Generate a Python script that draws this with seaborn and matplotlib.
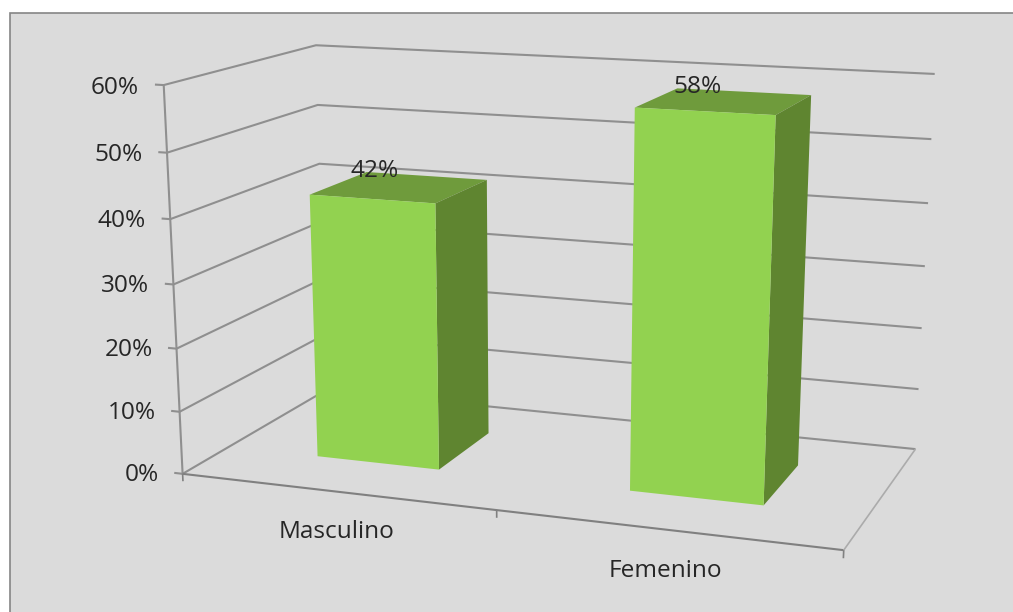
import numpy as np
import matplotlib
matplotlib.use("Agg")
import matplotlib.pyplot as plt
from matplotlib.patches import Rectangle
from mpl_toolkits.mplot3d import proj3d
import seaborn as sns

categories = ["Masculino", "Femenino"]
values = [42, 58]
value_labels = ["42%", "58%"]
tick_values = [0, 10, 20, 30, 40, 50, 60]
tick_labels = ["0%", "10%", "20%", "30%", "40%", "50%", "60%"]

FRONT = "#92D250"
TOP = "#6F9B3C"
SIDE = "#5F8530"
BG = "#DBDBDB"
GRID = "#8F8F8F"
CLEAR = (0, 0, 0, 0)

# camera fit: world (category x, depth y, value z) -> picture pixel
world_pts = [(0,0,0),(0,0,60),(0,1,60),(0,1,0),(2,1,0),(2,1,60),(2,0,0),(1,0,0),(2,1,30),(0,0,30),
             (1.3,.3,58),(1.7,.3,58),(1.7,.71,58),(1.3,.3,0),(1.7,.3,0),(.3,.3,42),(.7,.3,42),(.7,.71,42)]
pixel_pts = [(184,473),(163,85),(318,45),(325,392),(915,448),(936,72),(844,551),(497,510),(925,266),(172,284),
             (635,109),(776,116),(809,97),(630,491),(764,505),(310,194),(436,202),(485,180)]

def fit_camera(world, pixel):
    rows = []
    for (x, y, z), (u, v) in zip(world, pixel):
        X = [x / 2, y, z / 60, 1]
        rows.append(X + [0, 0, 0, 0] + [-u * c for c in X])
        rows.append([0, 0, 0, 0] + X + [-v * c for c in X])
    P = np.linalg.svd(np.array(rows, float))[2][-1].reshape(3, 4)
    P = P @ np.diag([1 / 2, 1, 1 / 60, 1])
    if P[2, 3] < 0:
        P = -P
    return np.vstack([P[0], P[1], [0, 1, 0, 0], P[2]])

sns.set_theme(style="white")
plt.rcParams["font.family"] = ["Open Sans", "DejaVu Sans"]

fig = plt.figure(figsize=(10.13, 6.12), dpi=100, facecolor="white")
fig.add_artist(Rectangle((10 / 1013, -0.01), 1.1, 1 - 12.5 / 612 + 0.01, transform=fig.transFigure,
                         facecolor=BG, edgecolor="#858585", linewidth=1.2, zorder=-1))
ax = fig.add_axes([0, 0, 1, 1], projection="3d", computed_zorder=False)
ax.patch.set_visible(False)
ax.set_axis_off()
ax.set_proj_type("ortho")
M = fit_camera(world_pts, pixel_pts)
ax.get_proj = lambda: M
ax.apply_aspect = lambda position=None: None

n = len(categories)
top = max(tick_values)
FS = 17.6
TXT = "#262626"

def line(xs, ys, zs, color=GRID, lw=1.5):
    ax.plot(xs, ys, zs, color=color, lw=lw, zorder=1, solid_capstyle="butt")

def label(x, y, z, s, ha):
    px, py, _ = proj3d.proj_transform(x, y, z, M)
    ax.text2D(float(px), float(py), s, transform=ax.transData, ha=ha, va="center",
              fontsize=FS, color=TXT, zorder=3)

for v, lab in zip(tick_values, tick_labels):
    line([-0.028, 0, 0, n], [0, 0, 1, 1], [v] * 4)
    label(-0.08, 0, v - 0.6, lab, "right")
line([0, 0], [0, 0], [0, top])
line([0, n], [0, 0], [0, 0], color="#808080")
line([n, n], [0, 1], [0, 0], color="#ABABAB", lw=1.2)
for i in range(n + 1):
    line([i, i], [0, 0], [0, -1.2], color="#808080", lw=1.2)

bar_w = 0.40
bar_d0, bar_d1 = 0.30, 0.71
centers = np.arange(n) + 0.50
label_dx = [0.01, -0.02]
label_dz = [4.3, 3.4]
for c, val, vlab, cat, dx, dz in zip(centers, values, value_labels, categories, label_dx, label_dz):
    faces = [CLEAR, TOP, FRONT, CLEAR, CLEAR, SIDE]
    ax.bar3d(c - bar_w / 2, bar_d0, 0, bar_w, bar_d1 - bar_d0, val, color=faces, shade=False,
             zorder=2, linewidth=0)
    label(c + dx, bar_d0, val + dz, vlab, "center")
    label(c, 0, -6.4, cat, "center")

ax.viewLim.intervalx = (0, 1013)
ax.viewLim.intervaly = (612, 0)
fig.savefig("out.png", dpi=100)
